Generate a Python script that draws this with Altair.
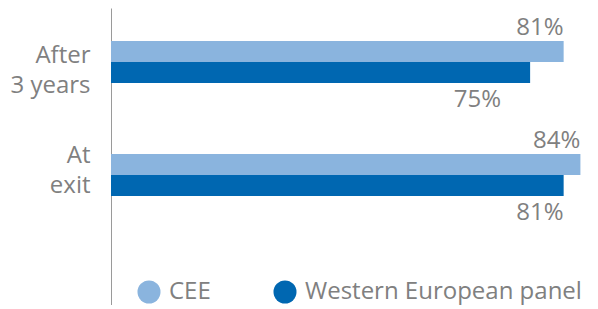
import altair as alt
import pandas as pd

categories = ["After 3 years", "At exit"]
series = ["CEE", "Western European panel"]
cee_values = [81, 84]
western_values = [75, 81]
colors = ["#8AB4DE", "#0067B1"]

rows = []
for c, v in zip(categories, cee_values):
    rows.append({"category": c, "series": series[0], "value": v, "label": f"{v}%"})
for c, v in zip(categories, western_values):
    rows.append({"category": c, "series": series[1], "value": v, "label": f"{v}%"})
df = pd.DataFrame(rows)

FONT = "Open Sans"
GRAY = "#808080"

y_enc = alt.Y(
    "category:N",
    sort=categories,
    scale=alt.Scale(domain=categories, paddingInner=0.628, paddingOuter=0.628, align=0.2325, round=False),
    axis=alt.Axis(
        title=None,
        ticks=False,
        domainColor="#9a9a9a",
        domainWidth=1,
        labelPadding=21,
        labelFontSize=24,
        labelFont=FONT,
        labelColor=GRAY,
        labelLineHeight=30,
        labelOffset={"condition": {"test": "datum.value == 'At exit'", "value": -19}, "value": -6},
        labelExpr="datum.value == 'After 3 years' ? ['After', '3 years'] : ['At', 'exit']",
    ),
)
yoff_enc = alt.YOffset("series:N", sort=series, scale=alt.Scale(domain=series, paddingInner=0, paddingOuter=0))
x_enc = alt.X("value:Q", scale=alt.Scale(domain=[0, 85], nice=False), axis=None)

base = alt.Chart(df)

bars = base.mark_bar().encode(
    y=y_enc,
    yOffset=yoff_enc,
    x=x_enc,
    color=alt.Color(
        "series:N",
        sort=series,
        scale=alt.Scale(domain=series, range=colors),
        legend=alt.Legend(
            title=None,
            orient="none",
            direction="horizontal",
            legendX=26,
            legendY=272,
            symbolType="circle",
            symbolSize=530,
            symbolStrokeWidth=0,
            symbolOpacity=1,
            labelFontSize=24,
            labelFont=FONT,
            labelColor=GRAY,
            labelOffset=8,
            labelLimit=0,
            columnPadding=62,
        ),
    ),
)

text_style = dict(fontSize=24, font=FONT, color=GRAY, align="right", baseline="alphabetic")

cee_text = base.transform_filter(alt.datum.series == series[0]).mark_text(dy=-17, **text_style).encode(
    y=y_enc, yOffset=yoff_enc, x=x_enc, text="label:N"
)
west_text_a = base.transform_filter(
    (alt.datum.series == series[1]) & (alt.datum.category == categories[0])
).mark_text(dy=34, dx=-29, **text_style).encode(y=y_enc, yOffset=yoff_enc, x=x_enc, text="label:N")
west_text_b = base.transform_filter(
    (alt.datum.series == series[1]) & (alt.datum.category == categories[1])
).mark_text(dy=34, **text_style).encode(y=y_enc, yOffset=yoff_enc, x=x_enc, text="label:N")

chart = (
    alt.layer(bars, cee_text, west_text_a, west_text_b)
    .properties(
        width=475,
        height=297,
        autosize=alt.AutoSizeParams(type="none"),
        padding={"left": 103, "top": 0, "right": 4, "bottom": 0},
    )
    .configure_view(stroke=None)
)

chart.save("out.html", embed_options={"renderer": "svg", "actions": False})
